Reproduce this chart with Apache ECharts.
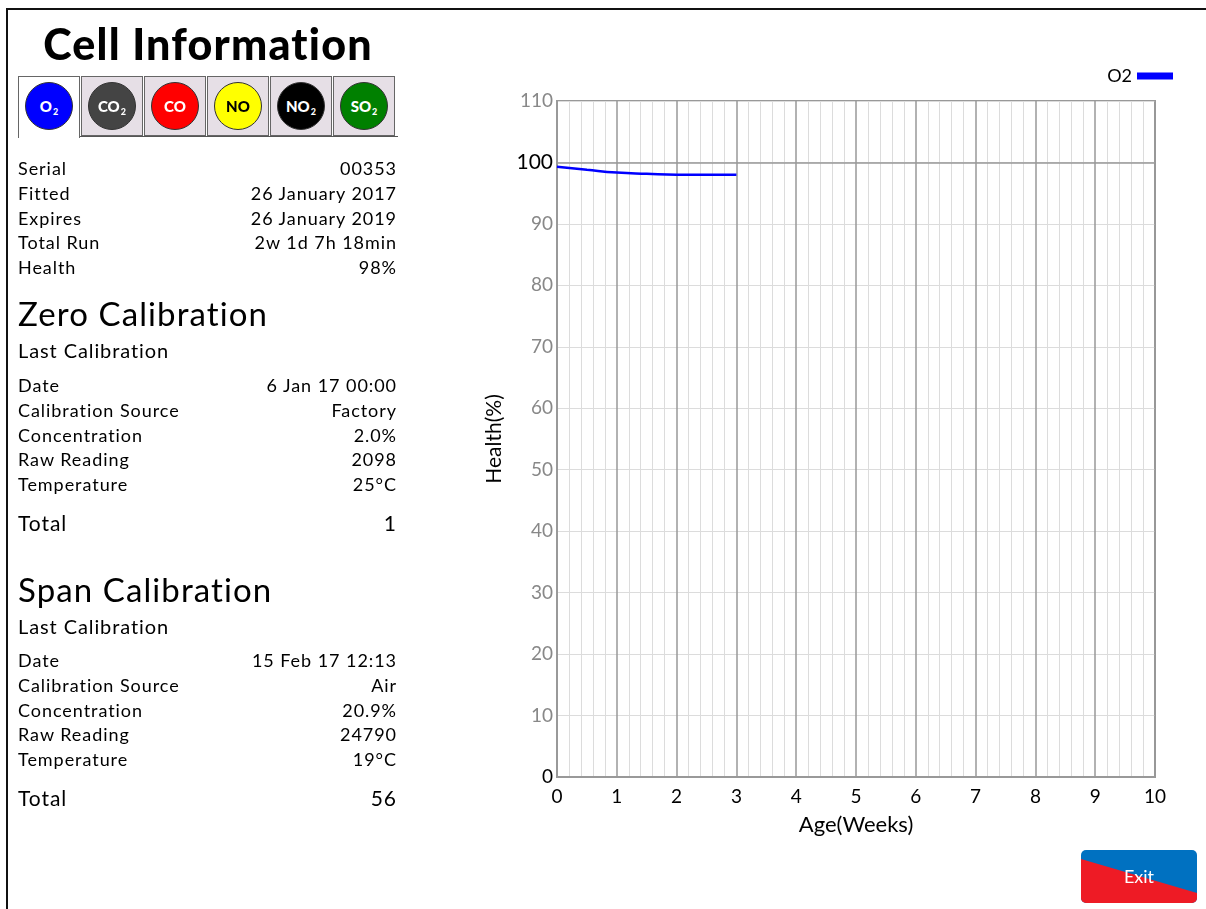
<!DOCTYPE html>
<html>
<head>
<meta charset="utf-8">
<script src="https://cdn.jsdelivr.net/npm/echarts@6/dist/echarts.min.js"></script>
<style>
  html, body { margin:0; padding:0; width:1206px; height:909px; background:#fff; overflow:hidden; font-family: Lato, "Noto Sans", sans-serif; color:#000; }
  #chart { position:absolute; left:0; top:0; width:1206px; height:909px; }
  #frame { position:absolute; left:6px; top:8px; width:1210px; height:910px; border-left:2px solid #111; border-top:2px solid #111; pointer-events:none; }
  #panel { position:absolute; left:0; top:0; width:420px; height:909px; }
  .title { position:absolute; left:18px; width:380px; top:18px; text-align:center; font-weight:900; font-size:43px; letter-spacing:1.2px; }
  .tabs { position:absolute; left:18px; top:76px; height:61px; width:380px; }
  .tab { position:absolute; top:0; width:62px; height:60px; background:#e6dfe6; border:1px solid #666; box-sizing:border-box; }
  .tab.sel { background:#fff; border-bottom:none; height:62px; }
  .tabline { position:absolute; left:80px; top:136px; width:318px; height:1px; background:#555; }
  .circ { position:absolute; left:6px; top:5px; width:48px; height:48px; border-radius:50%; box-sizing:border-box; border:1.5px solid #333; display:flex; align-items:center; justify-content:center; font-weight:900; font-size:15px; color:#fff; }
  .circ .s { font-size:9px; position:relative; top:5px; margin-left:1px; }
  .row { position:absolute; left:18px; width:379px; font-size:18px; letter-spacing:0.95px; line-height:22px; }
  .row .v { position:absolute; right:0; top:0; }
  .h2 { position:absolute; left:18px; font-size:33px; letter-spacing:1.1px; }
  .h3 { position:absolute; left:18px; font-size:20px; letter-spacing:0.9px; }
  .tot { font-size:21px; }
  #exit { position:absolute; left:1081px; top:850px; width:116px; height:53px; border-radius:5px; background:#0071c1; overflow:hidden; }
  #exit .red { position:absolute; left:0; top:0; width:116px; height:53px; background:#ee1b25; clip-path: polygon(0 9px, 100% 43px, 100% 100%, 0 100%); }
  #exit .t { position:absolute; left:0; top:0; width:116px; height:53px; line-height:53px; text-align:center; color:#fff; font-size:18px; }
</style>
</head>
<body>
<div id="chart"></div>
<div id="frame"></div>
<div id="panel"></div>
<div id="exit"><div class="red"></div><div class="t">Exit</div></div>
<script>
// ---- data ----
const weeks = [0, 0.5, 1, 1.5, 2, 2.5, 3];
const health = [99.3, 98.8, 98.35, 98.15, 98.0, 98.0, 98.0];
const seriesName = 'O2';
const xTicks = [0,1,2,3,4,5,6,7,8,9,10];
const yTicks = [0,10,20,30,40,50,60,70,80,90,100,110];

const gases = [
  {main:'O', sub:'2', bg:'#0000ff', fg:'#fff'},
  {main:'CO', sub:'2', bg:'#444444', fg:'#fff'},
  {main:'CO', sub:'', bg:'#ff0000', fg:'#fff'},
  {main:'NO', sub:'', bg:'#ffff00', fg:'#000'},
  {main:'NO', sub:'2', bg:'#000000', fg:'#fff'},
  {main:'SO', sub:'2', bg:'#008000', fg:'#fff'}
];
const cellInfo = [
  ['Serial','00353'],
  ['Fitted','26 January 2017'],
  ['Expires','26 January 2019'],
  ['Total Run','2w 1d 7h 18min'],
  ['Health','98%']
];
const zeroCal = [
  ['Date','6 Jan 17 00:00'],
  ['Calibration Source','Factory'],
  ['Concentration','2.0%'],
  ['Raw Reading','2098'],
  ['Temperature','25°C']
];
const zeroTotal = '1';
const spanCal = [
  ['Date','15 Feb 17 12:13'],
  ['Calibration Source','Air'],
  ['Concentration','20.9%'],
  ['Raw Reading','24790'],
  ['Temperature','19°C']
];
const spanTotal = '56';

// ---- left panel ----
let h = '<div class="title">Cell Information</div><div class="tabs">';
gases.forEach((g,i)=>{
  h += '<div class="tab'+(i===0?' sel':'')+'" style="left:'+(i*63)+'px"><div class="circ" style="background:'+g.bg+';color:'+g.fg+'">'+g.main+(g.sub?'<span class="s">'+g.sub+'</span>':'')+'</div></div>';
});
h += '</div><div class="tabline"></div>';
function rows(list, top, step){
  let s='';
  list.forEach((r,i)=>{ s += '<div class="row" style="top:'+(top+i*step)+'px">'+r[0]+'<span class="v">'+r[1]+'</span></div>'; });
  return s;
}
h += rows(cellInfo, 157, 24.8);
h += '<div class="h2" style="top:293px">Zero Calibration</div>';
h += '<div class="h3" style="top:338px">Last Calibration</div>';
h += rows(zeroCal, 374, 24.8);
h += '<div class="row tot" style="top:512px">Total<span class="v">'+zeroTotal+'</span></div>';
h += '<div class="h2" style="top:569px">Span Calibration</div>';
h += '<div class="h3" style="top:614px">Last Calibration</div>';
h += rows(spanCal, 649, 24.8);
h += '<div class="row tot" style="top:787px">Total<span class="v">'+spanTotal+'</span></div>';
document.getElementById('panel').innerHTML = h;

// ---- chart ----
const chart = echarts.init(document.getElementById('chart'), null, {renderer:'canvas'});
const font = 'Lato, "Noto Sans", sans-serif';
chart.setOption({
  animation:false,
  textStyle:{fontFamily:font},
  legend:{
    data:[seriesName], right:28, top:62, icon:'rect', itemWidth:36, itemHeight:7, align:'right',
    itemGap:4, textStyle:{fontSize:18, color:'#000', fontFamily:font}
  },
  grid:{left:557, top:101, width:598, height:676, show:true, borderColor:'#999', borderWidth:2, containLabel:false},
  xAxis:{
    type:'value', min:xTicks[0], max:xTicks[xTicks.length-1], interval:1,
    name:'Age(Weeks)', nameLocation:'middle', nameGap:37,
    nameTextStyle:{fontSize:22, color:'#000', fontFamily:font},
    axisLine:{show:true, lineStyle:{color:'#999', width:2}},
    axisTick:{show:false},
    axisLabel:{fontSize:19, color:'#000', margin:10, fontFamily:font},
    splitLine:{show:true, lineStyle:{color:'#999', width:1.5}},
    minorTick:{show:false, splitNumber:5},
    minorSplitLine:{show:true, lineStyle:{color:'#dcdcdc', width:1}}
  },
  yAxis:{
    type:'value', min:yTicks[0], max:yTicks[yTicks.length-1], interval:10,
    name:'Health(%)', nameLocation:'middle', nameGap:52, nameRotate:90,
    nameTextStyle:{fontSize:21, color:'#000', fontFamily:font},
    axisLine:{show:true, lineStyle:{color:'#999', width:2}},
    axisTick:{show:false},
    axisLabel:{
      margin:4, fontFamily:font,
      formatter:function(v){ return v===100 ? '{b|100}' : (v===0 ? '{k|0}' : '{g|'+v+'}'); },
      rich:{
        b:{fontSize:21, color:'#000', fontFamily:font},
        k:{fontSize:19, color:'#000', fontFamily:font},
        g:{fontSize:19, color:'#888', fontFamily:font}
      }
    },
    splitLine:{show:true, lineStyle:{color:'#dcdcdc', width:1}}
  },
  series:[{
    name:seriesName, type:'line', smooth:true, showSymbol:false, symbol:'none',
    data: weeks.map((w,i)=>[w, health[i]]),
    lineStyle:{color:'#0000ff', width:2.5}, itemStyle:{color:'#0000ff'},
    markLine:{silent:true, symbol:'none', label:{show:false},
      lineStyle:{color:'#999', width:1.5, type:'solid'}, data:[{yAxis:100}]}
  }]
});
</script>
</body>
</html>
